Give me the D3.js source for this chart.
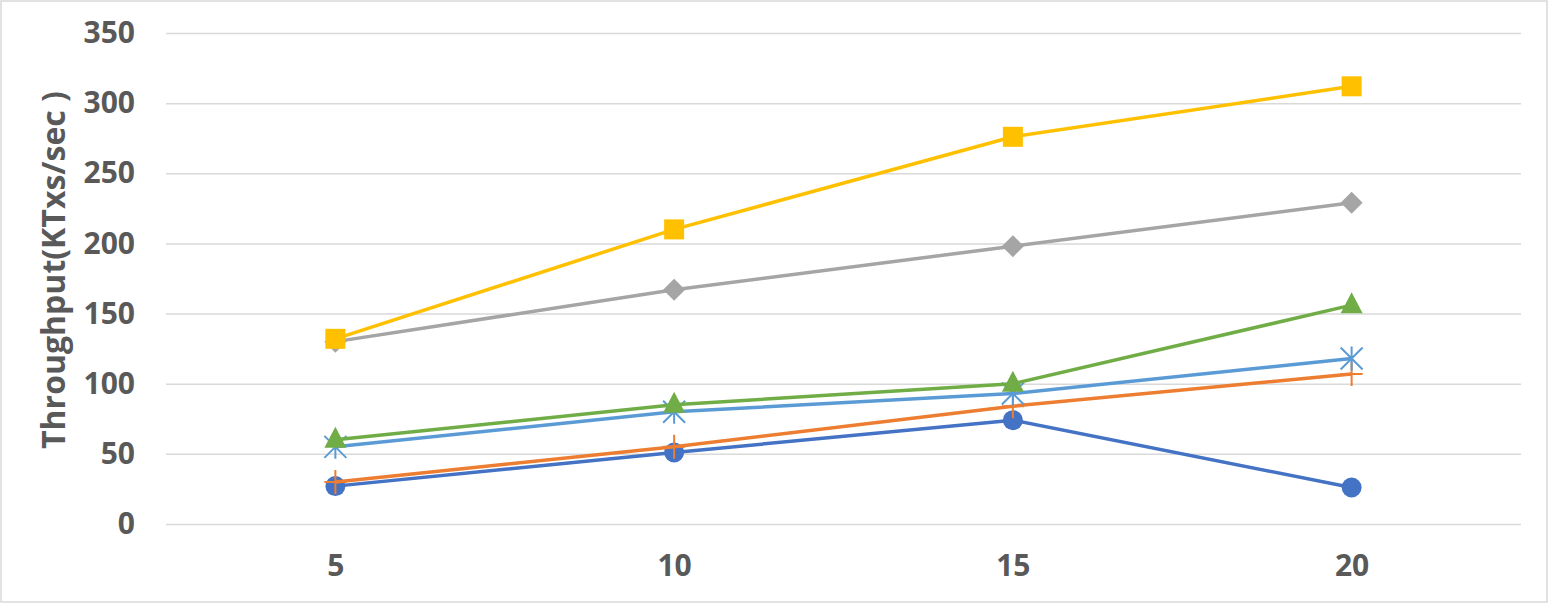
<!DOCTYPE html>
<html>
<head>
<meta charset="utf-8">
<script src="https://cdn.jsdelivr.net/npm/d3@7"></script>
<style>
  body { margin: 0; background: #fff; }
  svg { display: block; font-family: 'Open Sans', sans-serif; }
</style>
</head>
<body>
<svg width="1548" height="603"></svg>
<script>
const categories = ['5', '10', '15', '20']
const yTicks = [0, 50, 100, 150, 200, 250, 300, 350]
const circleSeries = [27, 51, 74, 26]
const plusSeries = [30, 55, 84, 107]
const diamondSeries = [130, 167, 198, 229]
const squareSeries = [132, 210, 276, 312]
const starSeries = [55, 80, 93, 118]
const triangleSeries = [60, 85, 100, 156]

const series = [
  { values: circleSeries, color: '#4472C4', marker: 'circle' },
  { values: plusSeries, color: '#ED7D31', marker: 'plus' },
  { values: diamondSeries, color: '#A5A5A5', marker: 'diamond' },
  { values: squareSeries, color: '#FFC000', marker: 'square' },
  { values: starSeries, color: '#5B9BD5', marker: 'star' },
  { values: triangleSeries, color: '#70AD47', marker: 'triangle' }
]

const svg = d3.select('svg')
const margin = { top: 33, right: 27, bottom: 79, left: 166 }
const width = +svg.attr('width') - margin.left - margin.right
const height = +svg.attr('height') - margin.top - margin.bottom

// outer border
svg.append('rect')
  .attr('x', 1).attr('y', 1)
  .attr('width', 1546).attr('height', 601)
  .attr('fill', 'none')
  .attr('stroke', '#d9d9d9')
  .attr('stroke-width', 1.5)

const x = d3.scalePoint().domain(categories).range([0, width]).padding(0.5)
const y = d3.scaleLinear().domain([0, 350]).range([height, 0])

const g = svg.append('g')
  .attr('transform', 'translate(' + margin.left + ',' + margin.top + ')')

// gridlines
g.append('g')
  .attr('class', 'grid')
  .call(d3.axisLeft(y).tickValues(yTicks).tickSize(-width).tickFormat(''))
  .call((s) => s.select('.domain').remove())
  .selectAll('line')
  .attr('stroke', '#d9d9d9')
  .attr('stroke-width', 1.5)

// y tick labels
g.append('g')
  .call(d3.axisLeft(y).tickValues(yTicks).tickSize(0).tickPadding(31))
  .call((s) => s.select('.domain').remove())
  .selectAll('text')
  .attr('fill', '#595959')
  .attr('font-size', 30)
  .attr('font-weight', 'bold')
  .attr('font-family', "'Open Sans', sans-serif")

// x tick labels
g.append('g')
  .attr('transform', 'translate(0,' + height + ')')
  .call(d3.axisBottom(x).tickSize(0).tickPadding(31))
  .call((s) => s.select('.domain').remove())
  .selectAll('text')
  .attr('fill', '#595959')
  .attr('font-size', 30)
  .attr('font-weight', 'bold')
  .attr('font-family', "'Open Sans', sans-serif")

// y axis title
svg.append('text')
  .attr('transform', 'translate(65,270) rotate(-90)')
  .attr('text-anchor', 'middle')
  .attr('fill', '#595959')
  .attr('font-size', 32)
  .attr('font-weight', 'bold')
  .text('Throughput(KTxs/sec )')

const line = d3.line()
  .x((d, i) => x(categories[i]))
  .y((d) => y(d))

const drawMarker = (sel, type, color) => {
  if (type === 'circle') {
    sel.append('circle').attr('r', 10).attr('fill', color)
  } else if (type === 'square') {
    sel.append('rect').attr('x', -10).attr('y', -10).attr('width', 20).attr('height', 20).attr('fill', color)
  } else if (type === 'diamond') {
    sel.append('path').attr('d', 'M0,-11L11,0L0,11L-11,0Z').attr('fill', color)
  } else if (type === 'triangle') {
    sel.append('path').attr('d', 'M0,-13L11,8L-11,8Z').attr('fill', color)
  } else if (type === 'plus') {
    sel.append('path').attr('d', 'M-11,0L11,0M0,-12L0,12').attr('stroke', color).attr('stroke-width', 2)
  } else if (type === 'star') {
    sel.append('path')
      .attr('d', 'M-11,-11L11,11M-11,11L11,-11M0,-12L0,12')
      .attr('stroke', color).attr('stroke-width', 2)
  }
}

series.forEach((s) => {
  const sg = g.append('g')
  sg.append('path')
    .datum(s.values)
    .attr('d', line)
    .attr('fill', 'none')
    .attr('stroke', s.color)
    .attr('stroke-width', 3.5)
    .attr('stroke-linejoin', 'round')
  sg.selectAll('.m')
    .data(s.values)
    .enter().append('g')
    .attr('class', 'm')
    .attr('transform', (d, i) => 'translate(' + x(categories[i]) + ',' + y(d) + ')')
    .each(function () { drawMarker(d3.select(this), s.marker, s.color) })
})
</script>
</body>
</html>
